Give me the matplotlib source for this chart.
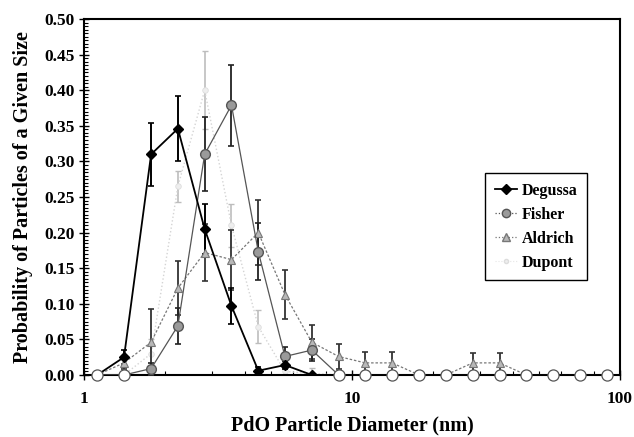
import matplotlib
matplotlib.use("Agg")
import matplotlib.pyplot as plt
import numpy as np
from matplotlib.ticker import MultipleLocator, LogLocator, NullFormatter, FixedLocator
from matplotlib.lines import Line2D

plt.rcParams['font.family'] = ['Liberation Serif', 'DejaVu Serif']
plt.rcParams['font.weight'] = 'bold'

diam = [1.12, 1.41, 1.78, 2.24, 2.82, 3.55, 4.47, 5.62, 7.08, 8.91,
        11.2, 14.1, 17.8, 22.4, 28.2, 35.5, 44.7, 56.2, 70.8, 89.1]

degussa = [0.0, 0.025, 0.31, 0.346, 0.205, 0.097, 0.006, 0.014, 0.0, 0.0,
           0.0, 0.0, 0.0, 0.0, 0.0, 0.0, 0.0, 0.0, 0.0, 0.0]
degussa_err = [0.0, 0.010, 0.044, 0.046, 0.035, 0.025, 0.005, 0.006, 0.0, 0.0,
               0.0, 0.0, 0.0, 0.0, 0.0, 0.0, 0.0, 0.0, 0.0, 0.0]

fisher = [0.0, 0.0, 0.009, 0.069, 0.31, 0.379, 0.173, 0.026, 0.035, 0.0,
          0.0, 0.0, 0.0, 0.0, 0.0, 0.0, 0.0, 0.0, 0.0, 0.0]
fisher_err = [0.0, 0.0, 0.008, 0.025, 0.052, 0.057, 0.040, 0.013, 0.015, 0.0,
              0.0, 0.0, 0.0, 0.0, 0.0, 0.0, 0.0, 0.0, 0.0, 0.0]

aldrich = [0.0, 0.017, 0.046, 0.122, 0.172, 0.162, 0.200, 0.113, 0.046, 0.026,
           0.017, 0.017, 0.0, 0.0, 0.017, 0.017, 0.0, 0.0, 0.0, 0.0]
aldrich_err = [0.0, 0.008, 0.046, 0.038, 0.040, 0.042, 0.046, 0.034, 0.024, 0.018,
               0.015, 0.015, 0.0, 0.0, 0.014, 0.014, 0.0, 0.0, 0.0, 0.0]

dupont = [0.0, 0.0, 0.03, 0.265, 0.40, 0.21, 0.068, 0.005, 0.002, 0.0,
          0.0, 0.0, 0.0, 0.0, 0.0, 0.0, 0.0, 0.0, 0.0, 0.0]
dupont_err = [0.0, 0.0, 0.02, 0.022, 0.055, 0.03, 0.023, 0.005, 0.008, 0.0,
              0.0, 0.0, 0.0, 0.0, 0.0, 0.0, 0.0, 0.0, 0.0, 0.0]

fig = plt.figure(figsize=(6.34, 4.37), dpi=100)
ax = fig.add_axes([0.1325, 0.1419, 0.8455, 0.8146])

# Dupont (very light gray)
ax.errorbar(diam, dupont, yerr=dupont_err, fmt='none', ecolor='#bdbdbd',
            elinewidth=1.2, capsize=2, capthick=1, linestyle=(0, (4, 2)), zorder=2)
ax.plot(diam, dupont, color='#d4d4d4', lw=1, ls=':', zorder=2)

# Aldrich
ax.errorbar(diam, aldrich, yerr=aldrich_err, fmt='none', ecolor='#333333',
            elinewidth=1.3, capsize=2.5, capthick=1.2, zorder=3)
ax.plot(diam, aldrich, color='#777777', lw=0.9, ls=(0, (2, 1.5)), marker='^',
        ms=6, mfc='#b8b8b8', mec='#777777', mew=0.8, zorder=4)

# Fisher
ax.errorbar(diam, fisher, yerr=fisher_err, fmt='none', ecolor='#222222',
            elinewidth=1.3, capsize=2.5, capthick=1.2, zorder=3)
ax.plot(diam, fisher, color='#555555', lw=0.9, marker='o', ms=7,
        mfc='#9a9a9a', mec='#555555', mew=1.0, zorder=5)

# Degussa
ax.errorbar(diam, degussa, yerr=degussa_err, fmt='none', ecolor='black',
            elinewidth=1.4, capsize=2.5, capthick=1.2, zorder=3)
ax.plot(diam, degussa, color='black', lw=1.3, marker='D', ms=5.5,
        mfc='black', mec='black', zorder=6)

# Dupont markers: faint where non-zero, open circles on the baseline
dx = np.array(diam)
dy = np.array(dupont)
zero = dy == 0
ax.plot(dx[~zero], dy[~zero], ls='none', marker='o', ms=4, mfc='#eeeeee',
        mec='#dddddd', mew=0.6, zorder=2)
ax.plot(dx[zero], dy[zero], ls='none', marker='o', ms=8, mfc='white', mec='#555555',
        mew=0.9, zorder=7, clip_on=False)

ax.set_xscale('log')
ax.set_xlim(1, 100)
ax.set_ylim(0, 0.5)
ax.xaxis.set_major_locator(FixedLocator([1, 10, 100]))
ax.set_xticklabels(['1', '10', '100'])
ax.xaxis.set_minor_locator(LogLocator(base=10, subs=range(2, 10)))
ax.xaxis.set_minor_formatter(NullFormatter())
ax.yaxis.set_major_locator(MultipleLocator(0.05))
ax.yaxis.set_minor_locator(MultipleLocator(0.005))
ax.set_yticklabels([f'{v:.2f}' for v in ax.get_yticks()])

ax.tick_params(axis='both', which='major', direction='inout', length=7, width=1,
               labelsize=12.5)
ax.tick_params(axis='y', which='major', pad=3)
ax.tick_params(axis='x', which='major', pad=8)
ax.tick_params(axis='both', which='minor', direction='in', length=3, width=0.8)
for lab in ax.get_xticklabels() + ax.get_yticklabels():
    lab.set_fontweight('bold')
for s in ax.spines.values():
    s.set_linewidth(1.5)

ax.set_xlabel('PdO Particle Diameter (nm)', fontsize=14.5, fontweight='bold', labelpad=6)
ax.set_ylabel('Probability of Particles of a Given Size', fontsize=14.5,
              fontweight='bold', labelpad=8)

handles = [
    Line2D([], [], color='black', lw=1.3, marker='D', ms=5, mfc='black'),
    Line2D([], [], color='#555555', lw=0.9, ls=':', marker='o', ms=6, mfc='#9a9a9a', mec='#555555'),
    Line2D([], [], color='#777777', lw=0.9, ls=':', marker='^', ms=6, mfc='#b8b8b8', mec='#777777'),
    Line2D([], [], color='#e6e6e6', lw=0.8, ls=':', marker='o', ms=3, mfc='#eeeeee', mec='#dddddd'),
]
leg = ax.legend(handles, ['Degussa', 'Fisher', 'Aldrich', 'Dupont'],
                loc='upper left', bbox_to_anchor=(0.748, 0.567), borderaxespad=0,
                fancybox=False, edgecolor='black', framealpha=1, fontsize=11.5,
                handlelength=1.4, handletextpad=0.3, borderpad=0.6, labelspacing=0.5)
leg.get_frame().set_linewidth(1.0)
for t in leg.get_texts():
    t.set_fontweight('bold')

fig.savefig('out.png', dpi=100)
